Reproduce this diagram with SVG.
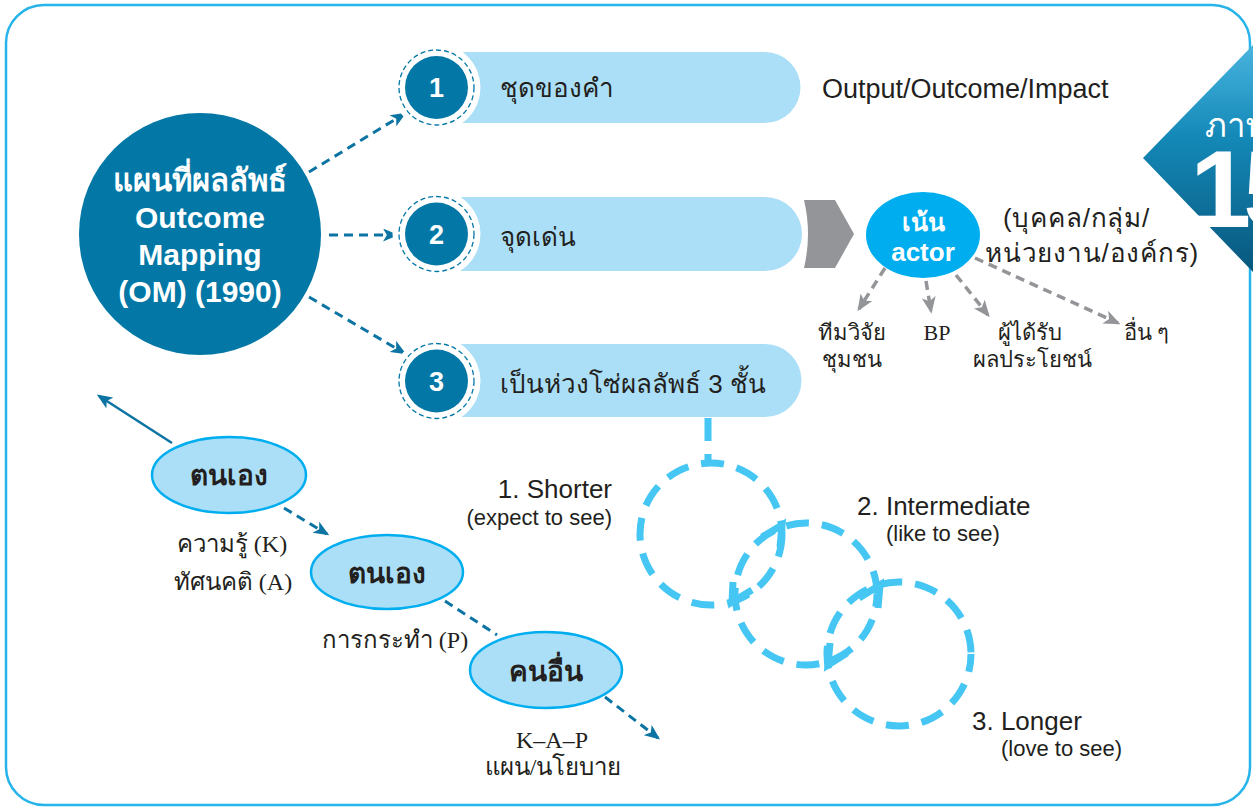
<svg xmlns="http://www.w3.org/2000/svg" width="1253" height="812" viewBox="0 0 1253 812">
<defs>
<style>
.sans{font-family:"Liberation Sans","Noto Sans","DejaVu Sans",sans-serif}
.serif{font-family:"Liberation Serif","DejaVu Serif",serif}
.dark{fill:#231f20}
.pill{fill:#abdff7}
.num{fill:#0377a6}
.ring{fill:none;stroke:#0377a6;stroke-width:1.3;stroke-dasharray:5 3}
.dteal{fill:none;stroke:#0c74a3;stroke-width:3;stroke-dasharray:9 6}
.dgrey{fill:none;stroke:#939598;stroke-width:3.5;stroke-dasharray:9 6}
.chain{fill:none;stroke:#45c6f3;stroke-width:7;stroke-dasharray:23 13}
.chv{fill:none;stroke:#45c6f3;stroke-width:7;stroke-linejoin:miter}
.ell{fill:#abdff7;stroke:#00aeef;stroke-width:2.5}
</style>
<marker id="ah" viewBox="0 0 12 10" refX="10" refY="5" markerWidth="16" markerHeight="13" markerUnits="userSpaceOnUse" orient="auto">
<path d="M0,0 L12,5 L0,10 L3,5 z" fill="#0c74a3"/>
</marker>
<marker id="ag" viewBox="0 0 12 10" refX="10" refY="5" markerWidth="17" markerHeight="14" markerUnits="userSpaceOnUse" orient="auto">
<path d="M0,0 L12,5 L0,10 L3,5 z" fill="#939598"/>
</marker>
<linearGradient id="tri" x1="0" y1="0" x2="0" y2="1">
<stop offset="0" stop-color="#49b4df"/>
<stop offset="0.4" stop-color="#1489b8"/>
<stop offset="1" stop-color="#08577d"/>
</linearGradient>
</defs>

<rect x="6" y="5" width="1244" height="800" rx="38" fill="#fff" stroke="#27b4ea" stroke-width="2.5"/>

<g id="banner">
<polygon points="1143,158 1253,45 1253,272" fill="url(#tri)"/>
<text x="1205" y="137" class="sans" font-size="33" fill="#fff">ภาพ</text>
<text x="1190" y="227" class="sans" font-size="110" font-weight="bold" fill="#fff" letter-spacing="-8">15</text>
</g>

<g id="connectors">
<line x1="309" y1="172" x2="404" y2="114" class="dteal" marker-end="url(#ah)"/>
<line x1="329" y1="235" x2="396" y2="235" class="dteal" marker-end="url(#ah)"/>
<line x1="309" y1="297" x2="404" y2="353" class="dteal" marker-end="url(#ah)"/>
<line x1="885" y1="268" x2="859" y2="309" class="dgrey" marker-end="url(#ag)"/>
<line x1="926" y1="281" x2="931" y2="311" class="dgrey" marker-end="url(#ag)"/>
<line x1="956" y1="275" x2="988" y2="315" class="dgrey" marker-end="url(#ag)"/>
<line x1="975" y1="258" x2="1118" y2="323" class="dgrey" marker-end="url(#ag)"/>
<line x1="172" y1="443" x2="99" y2="396" stroke="#0c74a3" stroke-width="2.5" marker-end="url(#ah)"/>
<line x1="284" y1="508" x2="327" y2="534" class="dteal" stroke-width="2.5" marker-end="url(#ah)"/>
<line x1="445" y1="601" x2="497" y2="635" class="dteal" stroke-width="2.5"/>
<line x1="605" y1="697" x2="658" y2="738" class="dteal" stroke-width="2.5" marker-end="url(#ah)"/>
<line x1="708" y1="418" x2="708" y2="462" class="chain" stroke-dasharray="14 10"/>
</g>

<g id="main">
<circle cx="200" cy="234" r="121" fill="#0377a6"/>
<g class="sans" font-size="30" font-weight="bold" fill="#fff" text-anchor="middle">
<text x="200" y="191" font-size="31">แผนที่ผลลัพธ์</text>
<text x="200" y="228">Outcome</text>
<text x="200" y="265">Mapping</text>
<text x="200" y="302">(OM) (1990)</text>
</g>
</g>

<g id="item1">
<path d="M440,52 H765 A35.5,35.5 0 0 1 765,123 H440 z" class="pill"/>
<circle cx="436.5" cy="87.5" r="44" fill="#fff"/>
<circle cx="436.5" cy="87.5" r="37.5" class="ring"/>
<circle cx="436.5" cy="87.5" r="31.5" class="num"/>
<text x="436.5" y="97" class="sans" font-size="27" font-weight="bold" fill="#fff" text-anchor="middle">1</text>
<text x="500" y="97" class="sans dark" font-size="26">ชุดของคำ</text>
</g>
<text x="822" y="98" class="sans dark" font-size="27">Output/Outcome/Impact</text>

<g id="item2">
<path d="M440,197 H765 A37,37 0 0 1 765,271 H440 z" class="pill"/>
<circle cx="436.5" cy="234" r="44" fill="#fff"/>
<circle cx="436.5" cy="234" r="37.5" class="ring"/>
<circle cx="436.5" cy="234" r="31.5" class="num"/>
<text x="436.5" y="244" class="sans" font-size="27" font-weight="bold" fill="#fff" text-anchor="middle">2</text>
<text x="500" y="246" class="sans dark" font-size="26">จุดเด่น</text>
</g>

<g id="item3">
<path d="M440,344 H765 A36.5,36.5 0 0 1 765,417 H440 z" class="pill"/>
<circle cx="436.5" cy="381" r="44" fill="#fff"/>
<circle cx="436.5" cy="381" r="37.5" class="ring"/>
<circle cx="436.5" cy="381" r="31.5" class="num"/>
<text x="436.5" y="391" class="sans" font-size="27" font-weight="bold" fill="#fff" text-anchor="middle">3</text>
<text x="500" y="393" class="sans dark" font-size="26">เป็นห่วงโซ่ผลลัพธ์ 3 ชั้น</text>
</g>

<g id="chevron">
<path d="M804,200 H835 L854,234 L835,268 H804 Q812,234 804,200 z" fill="#939598"/>
</g>

<g id="actor">
<ellipse cx="923" cy="235" rx="57" ry="43" fill="#00aeef"/>
<text x="923" y="231" class="sans" font-size="25" font-weight="bold" fill="#fff" text-anchor="middle">เน้น</text>
<text x="923" y="261" class="sans" font-size="26" font-weight="bold" fill="#fff" text-anchor="middle">actor</text>
</g>
<g class="sans dark" font-size="26" letter-spacing="0.8">
<text x="1003" y="227">(บุคคล/กลุ่ม/</text>
<text x="985" y="262">หน่วยงาน/องค์กร)</text>
</g>

<g id="actor-labels" class="serif dark" font-size="22" text-anchor="middle">
<text x="852" y="340">ทีมวิจัย</text>
<text x="852" y="367">ชุมชน</text>
<text x="937" y="340">BP</text>
<text x="1030" y="340">ผู้ได้รับ</text>
<text x="1032" y="367">ผลประโยชน์</text>
<text x="1146" y="340">อื่น<tspan dx="5">ๆ</tspan></text>
</g>

<g id="chain">
<circle cx="711" cy="534" r="71" class="chain"/>
<circle cx="806" cy="594" r="71" class="chain" stroke-dashoffset="10"/>
<circle cx="899" cy="654" r="72" class="chain" stroke-dashoffset="5"/>
<polyline points="762,537 782,525 780,547" class="chv"/>
<polyline points="733,582 732,602 752,590" class="chv"/>
<polyline points="859,598 880,585 878,608" class="chv"/>
<polyline points="830,643 828,665 847,653" class="chv"/>
</g>
<g class="sans dark">
<text x="612" y="498" font-size="26" text-anchor="end">1. Shorter</text>
<text x="612" y="525" font-size="22" text-anchor="end">(expect to see)</text>
<text x="857" y="515" font-size="26">2. Intermediate</text>
<text x="886" y="541" font-size="22">(like to see)</text>
<text x="972" y="730" font-size="26">3. Longer</text>
<text x="1001" y="756" font-size="22">(love to see)</text>
</g>

<g id="self1">
<ellipse cx="229" cy="475" rx="77" ry="38" class="ell"/>
<text x="229" y="485" class="sans dark" font-size="28" font-weight="bold" text-anchor="middle">ตนเอง</text>
</g>
<g id="self2">
<ellipse cx="387" cy="572" rx="76" ry="37" class="ell"/>
<text x="387" y="583" class="sans dark" font-size="28" font-weight="bold" text-anchor="middle">ตนเอง</text>
</g>
<g id="others">
<ellipse cx="546" cy="670" rx="76" ry="38" class="ell"/>
<text x="546" y="681" class="sans dark" font-size="28" font-weight="bold" text-anchor="middle">คนอื่น</text>
</g>
<g class="serif dark" font-size="24" text-anchor="middle">
<text x="232" y="552">ความรู้ (K)</text>
<text x="233" y="590">ทัศนคติ (A)</text>
<text x="395" y="648">การกระทำ (P)</text>
<text x="552" y="748">K–A–P</text>
<text x="553" y="775">แผน/นโยบาย</text>
</g>
</svg>
